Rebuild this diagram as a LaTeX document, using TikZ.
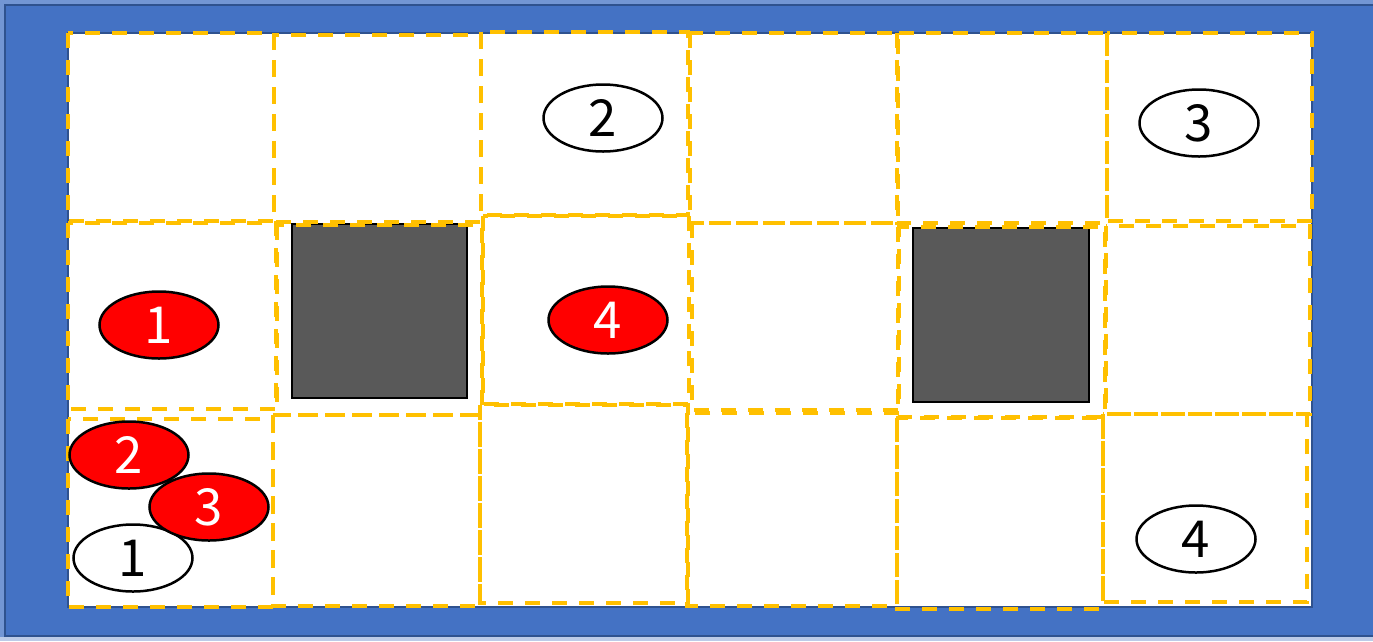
\documentclass[tikz,border=0pt]{standalone}
\usepackage{fontspec}
\setmainfont{Noto Sans CJK JP}
\usepackage{tikz}
\usetikzlibrary{shapes.geometric}
\definecolor{SEA}{HTML}{4472C4}
\definecolor{SEAEDGE}{HTML}{2F528F}
\definecolor{RIM}{HTML}{7396D4}
\definecolor{LIGHTRIM}{HTML}{BCCBE8}
\definecolor{LANE}{HTML}{FFC000}
\definecolor{WALL}{HTML}{595959}
\definecolor{AGENT}{HTML}{FF0000}

\begin{document}
\begin{tikzpicture}[
  x=1pt, y=-1pt,
  cell/.style={draw=LANE, line width=4pt, dash pattern=on 15pt off 12pt},
  wall/.style={draw=black, fill=WALL, line width=2.5pt},
  disc/.style={ellipse, draw=black, line width=2.5pt, minimum width=119pt, minimum height=67pt, inner sep=0pt, font=\fontsize{51}{55}\selectfont},
  goal/.style={disc, fill=white, text=black},
  agent/.style={disc, fill=AGENT, text=white}
]
\useasboundingbox (0,0) rectangle (1373,641);

% frame
\fill[RIM] (0,0) rectangle (1373,641);
\fill[LIGHTRIM] (0,637) rectangle (1373,641);
\draw[fill=SEA, draw=SEAEDGE, line width=2.5pt] (5,5) rectangle (1380,636);
\draw[fill=white, draw=SEAEDGE, line width=2pt] (68,33) rectangle (1312,607);

% walls
\draw[wall] (292,224) rectangle (467,398);
\draw[wall] (913,228) rectangle (1089,402);

% grid cells, each drawn by hand
\foreach \xa/\ya/\xb/\yb in {
    68/33/274/221, 274/35/481/222, 481/32/688/215,
    690/33/898/223, 897/33/1107/223, 1107/33/1312/221,
    68/223/276/409, 277/225/482/415, 483/216/689/404,
    692/223/899/410, 898/227/1105/417, 1106/226/1310/414,
    68/419/273/607, 273/415/480/606, 480/405/688/603,
    687/413/897/606, 897/418/1103/609, 1103/414/1307/602}
  \draw[cell] (\xa,\ya) rectangle (\xb,\yb);

% goals
\node[goal] (g1) at (133,558) {1};
\node[goal] (g2) at (603,118) {2};
\node[goal] (g3) at (1199,123) {3};
\node[goal] (g4) at (1196,539) {4};

% agents
\node[agent] (a1) at (159,325) {1};
\node[agent] (a2) at (129,455) {2};
\node[agent] (a3) at (209,507) {3};
\node[agent] (a4) at (608,320) {4};

\end{tikzpicture}
\end{document}
